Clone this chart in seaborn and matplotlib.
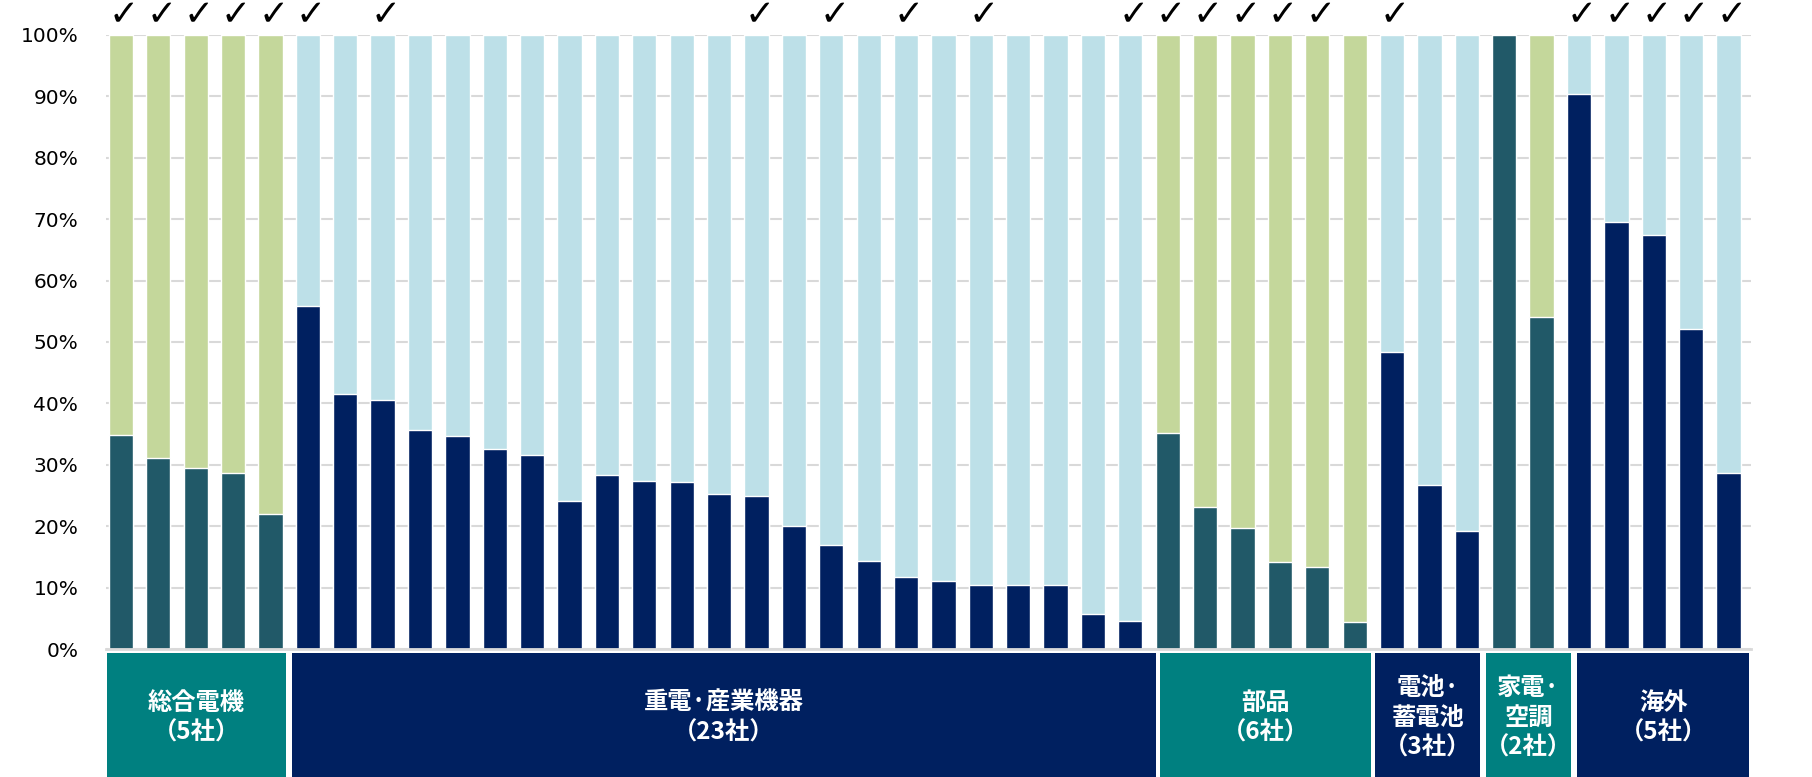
import matplotlib
matplotlib.use("Agg")
import matplotlib.pyplot as plt
import matplotlib.transforms as mtransforms
from matplotlib.patches import Rectangle
import numpy as np
import pandas as pd
import seaborn as sns

# --- data ---------------------------------------------------------------
group_labels = ["総合電機\n（5社）", "重電·産業機器\n（23社）", "部品\n（6社）",
                "電池·\n蓄電池\n（3社）", "家電·\n空調\n（2社）", "海外\n（5社）"]
group_sizes = [5, 23, 6, 3, 2, 5]
group_scheme = ["teal", "navy", "teal", "navy", "teal", "navy"]

share_general = [34.8, 31.1, 29.4, 28.6, 22.0]
share_heavy = [55.8, 41.6, 40.5, 35.7, 34.7, 32.6, 31.6, 24.1, 28.4, 27.4, 27.2, 25.3,
               24.9, 20.1, 17.0, 14.3, 11.7, 11.1, 10.5, 10.4, 10.4, 5.7, 4.6]
share_parts = [35.2, 23.1, 19.7, 14.1, 13.3, 4.4]
share_battery = [48.4, 26.7, 19.2]
share_appliance = [100.0, 54.0]
share_overseas = [90.4, 69.6, 67.4, 52.1, 28.6]

checked = [1, 1, 1, 1, 1,
           1, 0, 1, 0, 0, 0, 0, 0, 0, 0, 0, 0, 1, 0, 1, 0, 1, 0, 1, 0, 0, 0, 1,
           1, 1, 1, 1, 1, 0,
           1, 0, 0,
           0, 0,
           1, 1, 1, 1, 1]

# --- style --------------------------------------------------------------
scheme_colors = {
    "teal": {"bottom": "#215968", "top": "#C4D79B", "box": "#008080"},
    "navy": {"bottom": "#002060", "top": "#BDE0E8", "box": "#002060"},
}
# box boundaries in bar units (the label boxes are hand placed, not bar aligned)
box_edges = [(-0.37, 4.42), (4.57, 27.68), (27.8, 33.43),
             (33.55, 36.36), (36.5, 38.8), (38.96, 43.56)]

sns.set_theme(style="white")
plt.rcParams["font.family"] = ["DejaVu Sans", "Noto Sans CJK JP"]

values = share_general + share_heavy + share_parts + share_battery + share_appliance + share_overseas
bar_scheme = [s for s, n in zip(group_scheme, group_sizes) for _ in range(n)]
ids = [f"c{i:02d}" for i in range(len(values))]
df = pd.DataFrame({"id": ids, "share": values, "total": 100.0, "scheme": bar_scheme})

top_pal = {i: scheme_colors[s]["top"] for i, s in zip(ids, bar_scheme)}
bot_pal = {i: scheme_colors[s]["bottom"] for i, s in zip(ids, bar_scheme)}

fig = plt.figure(figsize=(18.12, 7.77), dpi=100)
ax = fig.add_axes([0.0585, 0.1647, 0.9078, 0.7903])

sns.barplot(data=df, x="id", y="total", hue="id", palette=top_pal, legend=False,
            width=0.65, saturation=1, order=ids, ax=ax)
sns.barplot(data=df, x="id", y="share", hue="id", palette=bot_pal, legend=False,
            width=0.65, saturation=1, order=ids, ax=ax)

ax.set_xlim(-0.4, len(values) - 0.4)
ax.set_ylim(0, 100)
ax.set_yticks(np.arange(0, 101, 10))
ax.set_yticklabels([f"{v}%" for v in range(0, 101, 10)], fontsize=14.5, color="#000000")
ax.tick_params(axis="y", length=0, pad=20)
ax.set_xticks([])
ax.set_xlabel("")
ax.set_ylabel("")
ax.yaxis.grid(True, color="#D9D9D9", linewidth=1.5)
ax.set_axisbelow(True)
for side in ["left", "right", "top"]:
    ax.spines[side].set_visible(False)
ax.spines["bottom"].set_color("#D9D9D9")
ax.spines["bottom"].set_linewidth(2)

# check marks above bars
for i, c in enumerate(checked):
    if c:
        ax.text(i + 0.08, 103.2, "✓", ha="center", va="center", fontsize=26,
                color="#000000", clip_on=False)

# category boxes below the axis
trans = mtransforms.blended_transform_factory(ax.transData, ax.transAxes)
for label, (left, right), s in zip(group_labels, box_edges, group_scheme):
    ax.add_patch(Rectangle((left, -0.21), right - left, 0.2035, transform=trans,
                           facecolor=scheme_colors[s]["box"], edgecolor="none",
                           clip_on=False))
    ax.text((left + right) / 2, -0.112, label, transform=trans, ha="center", va="center",
            multialignment="center", color="white", fontsize=17.5, fontweight="bold",
            family=["Noto Sans CJK JP", "DejaVu Sans"], linespacing=1.3)

fig.savefig("out.png", dpi=100)
